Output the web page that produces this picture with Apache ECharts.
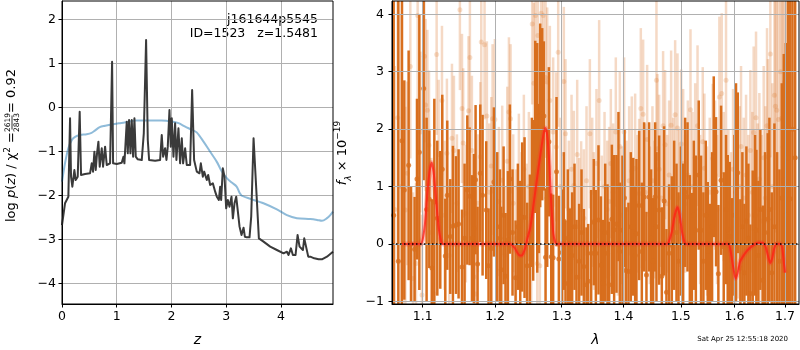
<!DOCTYPE html>
<html>
<head>
<meta charset="utf-8">
<script src="https://cdn.jsdelivr.net/npm/echarts@6/dist/echarts.min.js"></script>
<style>
  html, body { margin: 0; padding: 0; background: #fff; }
  #chart { width: 800px; height: 350px; }
</style>
</head>
<body>
<div id="chart"></div>
<script>
// ---- Redshift probability panel ----
const zTicks = [0, 1, 2, 3, 4];
const logPTicks = [-4, -3, -2, -1, 0, 1, 2];

const pzRedshift = [0.000,0.055,0.116,0.147,0.165,0.189,0.226,0.250,0.287,0.323,0.348,0.421,0.512,0.543,0.567,0.592,0.616,0.640,0.665,0.689,0.726,0.750,0.787,0.817,0.878,0.896,0.915,0.933,1.000,1.091,1.122,1.140,1.183,1.201,1.225,1.250,1.274,1.299,1.323,1.347,1.384,1.457,1.494,1.536,1.567,1.591,1.701,1.792,1.822,1.847,1.883,1.908,1.932,1.963,1.987,2.005,2.036,2.066,2.090,2.127,2.157,2.188,2.212,2.249,2.279,2.340,2.377,2.413,2.462,2.511,2.536,2.572,2.597,2.645,2.670,2.706,2.755,2.798,2.828,2.865,2.889,2.907,2.938,2.968,2.999,3.029,3.060,3.096,3.121,3.151,3.182,3.206,3.243,3.279,3.316,3.340,3.377,3.425,3.456,3.499,3.529,3.559,3.596,3.681,3.803,3.925,4.047,4.108,4.138,4.181,4.217,4.266,4.303,4.339,4.364,4.400,4.425,4.461,4.498,4.535,4.571,4.608,4.687,4.748,4.840,4.900,4.949];
const logPz = [-2.675,-2.182,-2.031,-0.250,-1.576,-1.803,-1.425,-1.652,-1.576,-0.099,-1.538,-1.516,-1.500,-1.273,-1.462,-1.008,-1.425,-1.046,-0.781,-1.349,-0.932,-1.349,-0.894,-1.311,-1.273,-1.270,1.037,-1.273,-1.288,-1.258,-1.122,-1.273,-0.326,-1.046,-0.288,-1.046,-0.288,-1.122,-0.250,-1.122,-1.182,-1.197,-0.591,1.530,-0.742,-1.197,-1.212,-1.197,-0.629,-1.122,-0.932,-1.197,-0.894,-0.061,-0.894,-0.250,-1.122,-0.364,-1.197,-0.478,-1.273,-0.705,-1.273,-0.932,-1.311,-1.311,0.394,-1.197,-1.462,-1.500,-1.273,-1.576,-1.462,-1.652,-1.538,-1.766,-1.728,-1.917,-2.031,-2.106,-1.803,-2.106,-1.387,-1.576,-2.296,-2.106,-2.258,-2.031,-2.523,-2.182,-2.031,-2.296,-2.712,-2.902,-2.735,-2.940,-2.955,-2.955,-2.485,-0.705,-0.742,-2.106,-2.978,-3.053,-3.167,-3.243,-3.319,-3.281,-3.356,-3.205,-3.356,-3.356,-2.902,-3.167,-3.167,-3.243,-2.978,-3.015,-3.394,-3.394,-3.356,-3.432,-3.455,-3.455,-3.394,-3.333,-3.281];

const chi2Redshift = [0,0.055,0.116,0.18,0.24,0.33,0.45,0.54,0.60,0.69,0.79,0.91,1.06,1.22,1.34,1.58,1.82,2.0,2.13,2.25,2.37,2.46,2.585,2.706,2.828,2.92,3.01,3.10,3.19,3.243,3.285,3.44,3.68,3.925,4.108,4.29,4.535,4.66,4.748,4.84,4.90,4.949];
const chi2Scaled = [-1.69,-1.27,-0.93,-0.74,-0.67,-0.63,-0.61,-0.58,-0.53,-0.45,-0.42,-0.39,-0.36,-0.33,-0.30,-0.30,-0.30,-0.32,-0.36,-0.44,-0.51,-0.57,-0.78,-1.01,-1.24,-1.46,-1.61,-1.71,-1.80,-1.94,-2.01,-2.08,-2.18,-2.32,-2.45,-2.52,-2.54,-2.56,-2.58,-2.52,-2.45,-2.37];

// ---- Spectrum panel ----
const waveTicks = [1.1, 1.2, 1.3, 1.4, 1.5, 1.6, 1.7];
const fluxTicks = [-1, 0, 1, 2, 3, 4];

const darkWave = [1.0623,1.0683,1.0730,1.0760,1.0816,1.0847,1.0894,1.0925,1.0956,1.1013,1.1052,1.1088,1.1123,1.1155,1.1195,1.1235,1.1262,1.1303,1.1330,1.1371,1.1407,1.1449,1.1485,1.1532,1.1568,1.1606,1.1638,1.1671,1.1699,1.1722,1.1750,1.1788,1.1821,1.1873,1.1906,1.1945,1.1983,
  1.2031,1.2070,1.2089,1.2123,1.2152,1.2186,1.2215,1.2254,1.2299,1.2333,1.2368,1.2397,1.2432,1.2472,1.2512,1.2542,1.2562,1.2593,1.2623,1.2648,1.2668,1.2699,1.2724,1.2750,1.2775,1.2801,1.2837,1.2867,1.2919,1.2955,1.3007,1.3033,1.3059,1.3096,1.3127,1.3164,1.3201,1.3233,1.3275,1.3313,1.3350,1.3393,1.3420,1.3468,1.3511,1.3544,
  1.3587,1.3626,1.3664,1.3697,1.3735,1.3762,1.3807,1.3845,1.3884,1.3917,1.3940,1.3984,1.4018,1.4040,1.4085,1.4125,1.4165,1.4199,1.4221,1.4267,1.4313,1.4353,1.4393,1.4439,1.4474,1.4509,1.4544,1.4567,1.4614,1.4661,1.4702,1.4743,1.4790,1.4838,1.4880,1.4922,1.4958,1.5000,1.5042,1.5078,1.5121,1.5163,1.5200,1.5236,1.5273,
  1.5326,1.5369,1.5412,1.5456,1.5493,1.5536,1.5574,1.5605,1.5648,1.5692,1.5743,1.5793,1.5837,1.5869,1.5907,1.5952,1.5997,1.6028,1.6061,1.6112,1.6151,1.6190,1.6229,1.6268,1.6307,1.6353,1.6399,1.6425,1.6465,1.6504,1.6551,1.6597,1.6651,1.6684,1.6731,1.6785,1.6839,1.6886,1.6934,1.6975,1.7016,1.7057,1.7105,1.7153,1.7208];
const darkFlux = [0.5,-0.30,1.8,0.94,1.37,0.0,-0.09,1.13,1.6,2.71,0.6,0.78,-0.42,0.73,0.45,0.42,1.30,-0.21,0.85,0.13,0.31,0.33,0.35,-0.4,0.1,0.94,0.83,0.1,0.27,1.12,-0.35,1.23,0.85,0.59,-0.38,-0.08,1.08,
  0.3,0.1,-0.45,0.5,-0.56,0.07,1.13,0.2,-0.59,0.3,-0.1,0.47,0.46,-0.38,0.01,0.9,0.76,2.04,1.5,1.14,2.24,2.26,2.23,-0.23,0.8,1.78,-0.22,-0.24,1.26,-0.26,-0.15,0.4,-0.69,0.1,-0.48,-0.2,0.3,-0.58,-0.3,0.2,-0.39,-0.71,-0.65,-0.16,0.38,-0.16,
  0.42,-0.37,-0.68,0.2,-0.16,-0.71,0.43,0.25,0.35,1.0,-0.13,0.24,0.8,-0.46,-0.48,0.30,0.30,-0.2,0.18,0.67,-0.13,0.82,-0.54,0.82,0.1,-0.3,0.82,0.30,0.59,-0.56,0.75,-0.84,-0.16,-0.02,0.5,0.2,-0.3,0.4,0.1,0.9,0.82,0.0,-0.31,0.5,0.24,
  1.20,0.24,-0.3,0.5,-0.12,-0.5,0.3,1.52,0.91,-0.52,1.11,-0.05,0.6,0.25,0.13,-0.4,0.5,0.9,1.24,-0.42,0.3,-0.5,0.4,0.1,-0.86,-0.02,0.5,0.24,-0.2,0.6,-0.63,0.2,0.43,0.60,-0.5,0.3,0.0,-0.3,0.8,1.11,0.5,1.5,0.79,2.0,1.5];
const darkErr = [5,4.6,3,1.91,2,1.0,0.91,1.4,2.4,1.6,1.6,1.2,1.2,1.8,1.35,1.2,1.3,1.0,1.3,1.0,1.4,1.2,1.3,1.0,1.3,1.3,1.2,1.1,1.3,1.3,1.0,1.2,1.4,1.2,1.0,1.1,1.3,
  1.3,1.2,1.1,1.2,1.1,1.2,1.3,1.1,1.0,1.1,1.2,1.3,1.4,1.1,1.2,1.3,1.4,1.5,2.0,1.3,1.6,1.5,1.3,1.2,1.2,1.3,1.1,1.1,1.3,1.1,1.1,1.2,1.1,1.2,1.1,1.1,1.1,1.0,1.0,1.1,1.0,1.0,1.0,1.1,1.1,1.1,
  1.3,1.2,1.1,1.2,1.2,1.1,1.3,1.3,1.2,1.3,1.2,1.3,1.2,1.1,1.2,1.3,1.2,1.2,1.3,1.3,1.2,1.3,1.1,1.3,1.2,1.1,1.3,1.3,1.3,1.2,1.3,1.1,1.2,1.2,1.3,1.2,1.2,1.3,1.3,1.3,1.3,1.2,1.2,1.3,1.3,
  1.3,1.3,1.2,1.3,1.2,1.2,1.3,1.4,1.3,1.2,1.3,1.3,1.3,1.3,1.3,1.2,1.4,1.9,1.4,1.2,1.3,1.2,1.3,1.3,1.2,1.3,1.4,1.4,1.3,1.4,1.3,1.4,1.5,1.6,1.4,1.8,1.6,1.6,2.0,2.2,3.0,3.2,3.5,3.5,3.5];

const lightWave = [1.0636,1.0674,1.0717,1.0773,1.0799,1.0838,1.0873,1.0912,1.0934,1.0969,1.0991,1.1022,1.1039,1.1062,1.1084,1.1115,1.1146,1.1186,1.1213,1.1258,1.1294,1.1325,1.1357,1.1394,1.1421,1.1462,1.1503,1.1532,1.1549,1.1586,1.1623,1.1642,1.1670,1.1698,1.1726,1.1754,1.1788,1.1802,1.1849,1.1882,1.1916,1.1945,1.1964,
  1.1997,1.2021,1.2055,1.2103,1.2142,1.2176,1.2201,1.2225,1.2264,1.2304,1.2348,1.2388,1.2422,1.2462,1.2497,1.2532,1.2547,1.2572,1.2597,1.2623,1.2633,1.2663,1.2683,1.2714,1.2750,1.2775,1.2816,1.2867,1.2914,1.2945,1.2981,1.3033,1.3059,1.3112,1.3154,1.3191,1.3244,1.3275,1.3307,1.3350,1.3393,1.3447,1.3485,1.3511,1.3554,
  1.3598,1.3642,1.3686,1.3730,1.3762,1.3790,1.3829,1.3873,1.3906,1.3940,1.3973,1.4012,1.4052,1.4097,1.4142,1.4176,1.4199,1.4238,1.4267,1.4296,1.4336,1.4370,1.4405,1.4451,1.4497,1.4532,1.4567,1.4584,1.4614,1.4649,1.4684,1.4719,1.4755,1.4790,1.4826,1.4862,1.4898,1.4940,1.4969,1.5006,1.5042,1.5078,1.5127,1.5175,1.5212,1.5261,1.5304,
  1.5351,1.5400,1.5431,1.5480,1.5530,1.5586,1.5630,1.5667,1.5711,1.5755,1.5793,1.5837,1.5882,1.5933,1.5971,1.6016,1.6061,1.6099,1.6125,1.6177,1.6223,1.6268,1.6307,1.6346,1.6372,1.6418,1.6451,1.6484,1.6530,1.6570,1.6603,1.6636,1.6656,1.6703,1.6743,1.6785,1.6805,1.6832,1.6866,1.6907,1.6934,1.6961,1.6989];
const lightFlux = [0.6,2.2,1.0,0.59,1.23,3.09,-0.6,-0.34,3.98,1.95,-0.89,3.27,2.42,2.33,1.72,0.2,-0.86,3.30,1.56,2.50,0.5,1.58,-0.2,1.84,1.63,0.71,4.08,2.36,1.76,0.53,2.32,3.25,1.63,-0.57,-0.87,0.71,1.52,3.52,3.47,2.23,0.9,1.36,2.18,
  2.17,0.30,0.74,1.11,-0.2,1.44,2.30,2.18,0.71,0.1,0.97,0.4,1.3,0.2,1.0,-0.34,3.83,2.8,3.98,-0.34,3.63,-0.38,4.02,3.98,2.9,2.82,2.50,1.95,1.69,3.34,1.0,2.83,1.92,0.6,1.3,1.02,1.56,0.3,0.59,0.45,1.1,1.92,0.9,0.40,1.4,
  2.50,0.24,1.0,0.6,0.74,1.40,0.9,1.95,0.3,1.70,0.5,1.95,0.6,1.1,1.27,0.3,1.32,0.7,0.88,2.36,2.26,0.9,1.82,0.5,1.1,0.6,2.85,1.66,1.30,0.8,2.06,1.73,0.7,1.2,2.07,1.0,2.25,2.02,0.8,1.74,1.4,0.7,1.2,2.34,1.0,1.5,2.06,
  0.6,1.78,1.32,0.4,0.9,1.49,1.2,0.6,2.56,2.62,1.0,2.85,0.7,0.3,1.3,0.0,0.45,1.0,1.70,0.8,1.2,0.5,1.63,0.9,1.94,2.20,0.6,1.13,0.4,1.5,0.8,2.06,1.52,3.31,1.0,2.59,2.40,2.33,2.17,3.0,2.19,1.69,2.82];
const lightErr = [2.5,2.5,3,1.8,1.6,1.6,1.5,1.4,1.5,1.4,1.4,1.5,1.5,1.4,1.3,1.3,1.2,1.4,1.3,1.3,1.3,1.3,1.2,1.3,1.3,1.2,1.4,1.3,1.3,1.2,1.3,1.3,1.3,1.2,1.2,1.2,1.3,1.3,1.3,1.3,1.2,1.2,1.3,
  1.4,1.3,1.3,1.3,1.2,1.3,1.3,1.3,1.2,1.2,1.3,1.2,1.3,1.2,1.3,1.2,1.4,1.4,1.5,1.3,1.4,1.3,1.4,1.4,1.4,1.3,1.3,1.3,1.3,1.3,1.2,1.3,1.3,1.2,1.3,1.3,1.3,1.2,1.2,1.2,1.3,1.3,1.3,1.2,1.3,
  1.4,1.3,1.3,1.2,1.3,1.3,1.2,1.3,1.2,1.3,1.2,1.3,1.2,1.3,1.3,1.2,1.3,1.2,1.3,1.4,1.3,1.2,1.3,1.2,1.3,1.2,1.4,1.3,1.3,1.2,1.3,1.3,1.2,1.3,1.3,1.2,1.3,1.3,1.2,1.3,1.3,1.2,1.3,1.4,1.3,1.3,1.4,
  1.3,1.3,1.3,1.3,1.3,1.3,1.3,1.3,1.4,1.4,1.3,1.4,1.3,1.3,1.4,1.3,1.4,1.4,1.4,1.4,1.4,1.4,1.4,1.4,1.5,1.5,1.5,1.5,1.5,1.6,1.6,1.7,1.7,1.8,1.8,2.0,2.2,2.5,2.8,3.0,3.0,3.0,3.5];

const modelWave = [1.073,1.097,1.100,1.103,1.106,1.109,1.112,1.115,1.118,1.121,1.124,1.127,1.222,1.228,1.233,1.236,1.239,1.241,1.244,1.247,1.252,1.257,1.262,1.267,1.272,1.275,1.278,1.281,1.284,1.287,1.290,1.293,1.476,1.479,1.484,1.489,1.494,1.498,1.502,1.506,1.510,1.588,1.592,1.597,1.602,1.606,1.610,1.616,1.624,1.632,1.640,1.647,1.655,1.661,1.666,1.670,1.674,1.678,1.683,1.690,1.694,1.698,1.700];
const modelFlux = [0,0,0.08,0.35,0.85,1.25,1.42,1.2,0.75,0.32,0.08,0,0,-0.06,-0.16,-0.2,-0.2,-0.17,-0.08,0.07,0.30,0.71,1.14,1.55,1.92,2.02,1.85,1.35,0.65,0.18,0.03,0,0,0.05,0.22,0.5,0.64,0.5,0.22,0.05,0,0,-0.1,-0.38,-0.6,-0.5,-0.32,-0.22,-0.12,-0.05,0.0,0.02,0.02,-0.05,-0.22,-0.33,-0.25,-0.08,0.0,0.0,-0.05,-0.35,-0.5];

// ---- helpers ----
const FONT = 'DejaVu Sans';
const TICK_FONT = 12.5;
const DARK = '#d86e1d';
const LIGHT = 'rgba(216,110,29,0.26)';
const BAR_W = 2.5;

const pairs = (xs, ys) => xs.slice(0, Math.min(xs.length, ys.length)).map((x, i) => [x, ys[i]]);
const triples = (xs, ys, es) => xs.slice(0, Math.min(xs.length, ys.length, es.length)).map((x, i) => [x, ys[i], es[i]]);
const minusFmt = v => (v < 0 ? '\u2212' + Math.abs(v) : String(v));

// vertical error bar: value ± error
function errorBarRenderer(color) {
  return function (params, api) {
    const x = api.value(0), y = api.value(1), e = api.value(2);
    const hi = api.coord([x, y + e]);
    const lo = api.coord([x, y - e]);
    return {
      type: 'rect',
      shape: { x: hi[0] - BAR_W / 2, y: hi[1], width: BAR_W, height: lo[1] - hi[1] },
      style: { fill: color }
    };
  };
}

function tickLabel(values, fmt, margin) {
  return { customValues: values, formatter: fmt, color: '#000', fontFamily: FONT, fontSize: TICK_FONT, margin: margin };
}
const tickStyle = values => ({ show: true, customValues: values, length: 3.5, inside: false, lineStyle: { color: '#000', width: 1 } });
const gridLine = { show: true, lineStyle: { color: '#b0b0b0', width: 1 } };
const frameLine = { show: true, onZero: false, lineStyle: { color: '#000', width: 1 } };

const chart = echarts.init(document.getElementById('chart'), null, { renderer: 'canvas' });

const gridBase = { top: 1, height: 303, show: true, borderColor: '#000', borderWidth: 1, backgroundColor: 'transparent', z: 6, containLabel: false, outerBoundsMode: 'none' };

chart.setOption({
  animation: false,
  backgroundColor: '#fff',
  textStyle: { fontFamily: FONT },
  grid: [
    Object.assign({ left: 62, width: 271 }, gridBase),
    Object.assign({ left: 392, width: 407 }, gridBase)
  ],
  xAxis: [
    {
      gridIndex: 0, type: 'value', min: 0, max: 4.95, splitNumber: 5,
      axisLine: frameLine, axisTick: tickStyle(zTicks), axisLabel: tickLabel(zTicks, minusFmt, 6),
      splitLine: gridLine,
      name: 'z', nameLocation: 'middle', nameGap: 29,
      nameTextStyle: { fontStyle: 'italic', fontSize: 14, fontFamily: FONT, color: '#000' }
    },
    {
      gridIndex: 1, type: 'log', logBase: 10, min: 1.0602, max: 1.7288, z: 3,
      axisLine: frameLine, axisTick: tickStyle(waveTicks),
      axisLabel: tickLabel(waveTicks, v => Number(v).toFixed(1), 6),
      splitLine: gridLine, minorTick: { show: false }, minorSplitLine: { show: false },
      name: 'λ', nameLocation: 'middle', nameGap: 29,
      nameTextStyle: { fontStyle: 'italic', fontSize: 14, fontFamily: FONT, color: '#000' }
    }
  ],
  yAxis: [
    {
      gridIndex: 0, type: 'value', min: -4.47, max: 2.416, splitNumber: 7,
      axisLine: frameLine, axisTick: tickStyle(logPTicks), axisLabel: tickLabel(logPTicks, minusFmt, 6),
      splitLine: gridLine
    },
    {
      gridIndex: 1, type: 'value', min: -1.045, max: 4.232, splitNumber: 5, z: 3,
      axisLine: frameLine, axisTick: tickStyle(fluxTicks), axisLabel: tickLabel(fluxTicks, minusFmt, 8),
      splitLine: gridLine
    }
  ],
  series: [
    {
      name: 'chi2', type: 'line', xAxisIndex: 0, yAxisIndex: 0, data: pairs(chi2Redshift, chi2Scaled),
      showSymbol: false, smooth: 0.3, clip: true, z: 2,
      lineStyle: { color: 'rgba(31,119,180,0.5)', width: 2 }
    },
    {
      name: 'log p(z)', type: 'line', xAxisIndex: 0, yAxisIndex: 0, data: pairs(pzRedshift, logPz),
      showSymbol: false, clip: true, z: 3,
      lineStyle: { color: '#3a3a3a', width: 2, join: 'round' }
    },
    {
      name: 'spectrum B errors', type: 'custom', xAxisIndex: 1, yAxisIndex: 1, clip: true, z: 1,
      data: triples(lightWave, lightFlux, lightErr), encode: { x: 0, y: 1 },
      renderItem: errorBarRenderer(LIGHT)
    },
    {
      name: 'spectrum B', type: 'scatter', xAxisIndex: 1, yAxisIndex: 1, clip: true, z: 1,
      data: pairs(lightWave, lightFlux), symbol: 'circle', symbolSize: 5,
      itemStyle: { color: LIGHT }
    },
    {
      name: 'spectrum A errors', type: 'custom', xAxisIndex: 1, yAxisIndex: 1, clip: true, z: 2,
      data: triples(darkWave, darkFlux, darkErr), encode: { x: 0, y: 1 },
      renderItem: errorBarRenderer(DARK)
    },
    {
      name: 'spectrum A', type: 'scatter', xAxisIndex: 1, yAxisIndex: 1, clip: true, z: 2,
      data: pairs(darkWave, darkFlux), symbol: 'circle', symbolSize: 5,
      itemStyle: { color: DARK }
    },
    {
      name: 'model glow', type: 'line', xAxisIndex: 1, yAxisIndex: 1, data: pairs(modelWave, modelFlux),
      showSymbol: false, smooth: 0.2, clip: true, z: 4,
      lineStyle: { color: 'rgba(255,50,40,0.3)', width: 5, join: 'round' }
    },
    {
      name: 'model', type: 'line', xAxisIndex: 1, yAxisIndex: 1, data: pairs(modelWave, modelFlux),
      showSymbol: false, smooth: 0.2, clip: true, z: 4,
      lineStyle: { color: 'rgba(255,30,20,0.75)', width: 2, join: 'round' }
    },
    {
      name: 'zero', type: 'line', xAxisIndex: 1, yAxisIndex: 1, data: [], z: 5,
      markLine: {
        silent: true, symbol: 'none', label: { show: false },
        lineStyle: { color: '#000', width: 1.5, type: [1.5, 2.5] },
        data: [{ yAxis: 0 }]
      }
    }
  ],
  graphic: [
    // panel annotation
    { type: 'text', x: 318, y: 20, style: { text: 'j161644p5545', fontFamily: FONT, fontSize: 12.5, fill: '#000', align: 'right', verticalAlign: 'middle' } },
    { type: 'text', x: 318, y: 34, style: { text: 'ID=1523   z=1.5481', fontFamily: FONT, fontSize: 12.5, fill: '#000', align: 'right', verticalAlign: 'middle' } },
    // left axis title with stacked fraction
    {
      type: 'group', x: 12, y: 154, rotation: Math.PI / 2,
      children: [
        {
          type: 'text', x: 22, y: 0,
          style: {
            text: '{n|log }{i|p}{n|(}{i|z}{n|) / χ}{s|2}{n| =}',
            align: 'right', verticalAlign: 'middle', fill: '#000',
            rich: {
              n: { fontFamily: FONT, fontSize: 13, lineHeight: 18, verticalAlign: 'middle' },
              i: { fontFamily: FONT, fontSize: 13, fontStyle: 'italic', lineHeight: 18, verticalAlign: 'middle' },
              s: { fontFamily: FONT, fontSize: 9, lineHeight: 18, verticalAlign: 'top' }
            }
          }
        },
        { type: 'text', x: 31.5, y: -4.2, style: { text: '2619', fontFamily: FONT, fontSize: 7.5, fill: '#000', align: 'center', verticalAlign: 'middle' } },
        { type: 'line', shape: { x1: 24.5, y1: 0, x2: 38.5, y2: 0 }, style: { stroke: '#000', lineWidth: 0.8 } },
        { type: 'text', x: 31.5, y: 4.6, style: { text: '2843', fontFamily: FONT, fontSize: 7.5, fill: '#000', align: 'center', verticalAlign: 'middle' } },
        { type: 'text', x: 41, y: 0, style: { text: '= 0.92', fontFamily: FONT, fontSize: 13, fill: '#000', align: 'left', verticalAlign: 'middle' } }
      ]
    },
    // right axis title
    {
      type: 'text', x: 343, y: 153, rotation: Math.PI / 2,
      style: {
        text: '{i|f}{b|λ}{n| × 10}{p|−19}',
        align: 'center', verticalAlign: 'middle', fill: '#000',
        rich: {
          i: { fontFamily: FONT, fontSize: 13, fontStyle: 'italic', lineHeight: 20, verticalAlign: 'middle' },
          b: { fontFamily: FONT, fontSize: 9, fontStyle: 'italic', lineHeight: 20, verticalAlign: 'bottom' },
          n: { fontFamily: FONT, fontSize: 13, lineHeight: 20, verticalAlign: 'middle' },
          p: { fontFamily: FONT, fontSize: 9, lineHeight: 20, verticalAlign: 'top' }
        }
      }
    },
    // timestamp
    { type: 'text', x: 788, y: 339, style: { text: 'Sat Apr 25 12:55:18 2020', fontFamily: FONT, fontSize: 7, fill: '#000', align: 'right', verticalAlign: 'middle' } }
  ]
});
</script>
</body>
</html>
